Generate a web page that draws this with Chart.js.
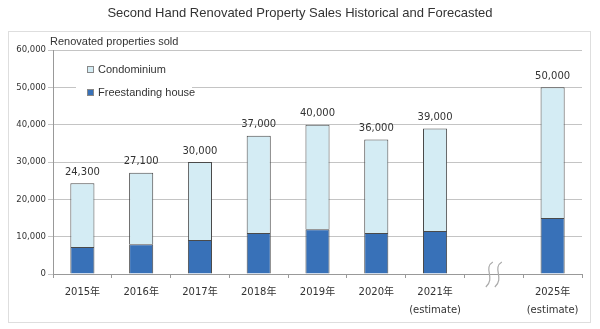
<!DOCTYPE html>
<html lang="en">
<head>
<meta charset="UTF-8">
<title>Renovated Property Sales</title>
<script src="https://cdn.jsdelivr.net/npm/chart.js"></script>
<style>
  body { margin: 0; background: #fff; }
  canvas { display: block; }
</style>
</head>
<body>
<canvas id="salesChart" width="600" height="329"></canvas>
<script>
  // data
  const years = [['2015年'], ['2016年'], ['2017年'], ['2018年'], ['2019年'], ['2020年'], ['2021年', '(estimate)'], [''], ['2025年', '(estimate)']]
  const totals = [24300, 27100, 30000, 37000, 40000, 36000, 39000, null, 50000]
  const freestanding = [7200, 8000, 9100, 11000, 12000, 11000, 11500, null, 15000]
  const condominium = totals.map((t, i) => t === null ? null : t - freestanding[i])
  const yTicks = [0, 10000, 20000, 30000, 40000, 50000, 60000]
  const breakIndex = 7

  const darkBlue = '#3871b8'
  const lightBlue = '#d4ecf4'
  const edge = '#4a4a4a'

  // outer frame, title, axis caption, totals, legend, axis break
  const decor = {
    id: 'decor',
    beforeDraw(chart) {
      const c = chart.ctx
      c.save()
      c.strokeStyle = '#dedede'
      c.lineWidth = 1
      c.strokeRect(8.5, 31.5, 582, 291)
      c.fillStyle = '#333'
      c.font = '13px "Liberation Sans", Arial, sans-serif'
      c.textAlign = 'center'
      c.textBaseline = 'middle'
      c.fillText('Second Hand Renovated Property Sales Historical and Forecasted', 300, 13)
      c.font = '11px "Liberation Sans", Arial, sans-serif'
      c.textAlign = 'left'
      c.textBaseline = 'alphabetic'
      c.fillText('Renovated properties sold', 50, 45)
      c.restore()
    },
    afterDraw(chart) {
      const c = chart.ctx
      const x = chart.scales.x
      const y = chart.scales.y
      c.save()
      // totals above bars
      c.fillStyle = '#333'
      c.font = '10px "DejaVu Sans", Verdana, sans-serif'
      c.textAlign = 'center'
      c.textBaseline = 'bottom'
      totals.forEach((t, i) => {
        if (t === null) return
        c.fillText(t.toLocaleString('en-US'), x.getPixelForValue(i), y.getPixelForValue(t) - 6)
      })
      // legend
      c.fillStyle = '#fff'
      c.fillRect(76, 58, 116, 44)
      c.font = '11px "Liberation Sans", Arial, sans-serif'
      c.textAlign = 'left'
      c.textBaseline = 'middle'
      const items = [[chart.data.datasets[1].label, lightBlue, 70], [chart.data.datasets[0].label, darkBlue, 93]]
      items.forEach(([label, col, ly]) => {
        c.fillStyle = col
        c.fillRect(87.5, ly - 3.5, 6, 6)
        c.strokeStyle = '#888'
        c.lineWidth = 1
        c.strokeRect(87.5, ly - 3.5, 6, 6)
        c.fillStyle = '#333'
        c.fillText(label, 98, ly)
      })
      // axis break squiggle
      const bx = x.getPixelForValue(breakIndex)
      c.strokeStyle = '#aaa'
      c.lineWidth = 1.2
      ;[-5, 4].forEach(dx => {
        c.beginPath()
        c.moveTo(bx + dx + 4, 262)
        c.bezierCurveTo(bx + dx - 6, 268, bx + dx + 7, 278, bx + dx - 3, 287)
        c.stroke()
      })
      c.restore()
    }
  }

  const config = {
    type: 'bar',
    data: {
      labels: years,
      datasets: [{
        label: 'Freestanding house',
        data: freestanding,
        backgroundColor: darkBlue,
        borderColor: edge,
        borderWidth: 1,
        barPercentage: 0.82,
        categoryPercentage: 0.5
      }, {
        label: 'Condominium',
        data: condominium,
        backgroundColor: lightBlue,
        borderColor: edge,
        borderWidth: 1,
        barPercentage: 0.82,
        categoryPercentage: 0.5
      }]
    },
    options: {
      responsive: false,
      animation: false,
      layout: { padding: { left: 0, top: 50, right: 18, bottom: 0 } },
      plugins: {
        legend: { display: false },
        title: { display: false },
        tooltip: { enabled: false }
      },
      scales: {
        x: {
          stacked: true,
          afterFit(scale) { scale.height = 55 },
          border: { color: '#999' },
          grid: { display: true, drawOnChartArea: false, drawTicks: true, tickLength: 4, color: '#999', offset: true },
          ticks: {
            color: '#333',
            font: { family: '"DejaVu Sans", "Noto Sans CJK JP", sans-serif', size: 10, lineHeight: 1.8 },
            maxRotation: 0,
            autoSkip: false,
            padding: 5
          }
        },
        y: {
          stacked: true,
          min: 0,
          max: 60000,
          afterFit(scale) { scale.width = 53 },
          afterBuildTicks(scale) { scale.ticks = yTicks.map(v => ({ value: v })) },
          border: { color: '#999' },
          grid: { color: '#c4c4c4', tickLength: 5 },
          ticks: {
            color: '#333',
            font: { family: '"DejaVu Sans", Verdana, sans-serif', size: 8.5 },
            padding: 2,
            callback: v => v.toLocaleString('en-US')
          }
        }
      }
    },
    plugins: [decor]
  }

  const salesChart = new Chart(document.getElementById('salesChart'), config)
</script>
</body>
</html>
